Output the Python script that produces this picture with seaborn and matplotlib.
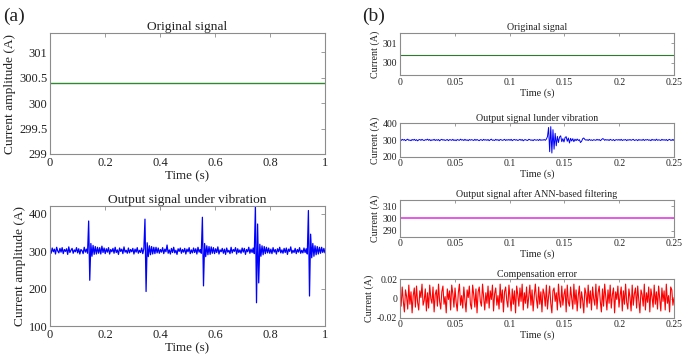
import numpy as np
import matplotlib
matplotlib.use("Agg")
import matplotlib.pyplot as plt
import seaborn as sns
from matplotlib.ticker import FuncFormatter

# ---- data ----
ORIG_LEVEL = 300.39          # original (clean) current, A
FILT_LEVEL = 300.0           # ANN-filtered output, A

# (a) output signal under vibration, deviation from 300 A, 0..1 s
vib_a_dev = [
    3, -6, 8, -2, 5, -8, 10, 0, -5, 7, -3, 9, -7, 4, -1, 6, -9, 11, -4, 2, 7, -6, 3, -2, 9,
    -5, 6, -8, 4, 1, -7, 10, -3, 5, -6, 80, -78, 20, -14, 15, -9, 12, -8, 10, -6, 9, -8, 13, -4, 8,
    -7, 6, -3, 9, -8, 4, -2, 7, -6, 10, -4, 3, -9, 8, -1, 5, -7, 11, -3, 2, -6, 8, -5, 4, -2,
    7, -8, 5, -3, 9, -6, 2, -4, 8, -7, 6, 85, -108, 22, -15, 14, -10, 12, -8, 10, -7, 10, -5, 8, -6,
    4, -3, 9, -7, 5, -2, 16, -6, 3, -8, 7, -4, 10, -5, 2, -9, 6, -1, 8, -6, 4, -3, 7, -8, 5,
    -2, 9, -7, 3, -5, 8, -4, 6, -8, 10, -3, 4, -6, 90, -93, 20, -15, 14, -10, 12, -9, 11, -6, 9, -7,
    6, -4, 11, -8, 3, -2, 7, -6, 5, -9, 8, -3, 2, -7, 10, -5, 4, -1, 9, -8, 6, -4, 3, -6, 8,
    -3, 7, -9, 4, -2, 10, -6, 5, -4, 8, -7, 120, -138, 72, -85, 18, -14, 14, -10, 12, -7, 10, -5, 8, -6,
    5, -7, 9, -3, 4, -8, 6, -2, 10, -5, 3, -6, 7, -4, 8, -9, 5, -1, 11, -6, 2, -4, 7, -7, 4,
    -3, 9, -6, 2, -5, 8, -4, 6, -8, 108, -120, 45, -18, 20, -14, 14, -10, 12, -8, 10, -6, 10, -4, 7, -5,
]

# (b) output signal under vibration, deviation from 300 A, 0..0.25 s
vib_b_dev = [
    2, -3, 4, -1, 3, -4, 1, 5, -2, 0, -4, 3, -1, 4, -3, 2, -5, 1, 3, -2, 4, -1, -3, 2, 0,
    5, -2, 3, -4, 1, -1, 4, -3, 2, -2, 3, -5, 1, 4, -1, 2, -3, 0, 3, -4, 2, 1, -2, 4, -3,
    1, -4, 3, 0, -2, 5, -1, 2, -3, 4, -2, 1, -4, 3, -1, 2, 0, -3, 4, -2, 3, -1, -4, 2, 1,
    -3, 4, -1, 2, -2, 3, -4, 1, 5, -2, 0, -3, 4, -1, 2, -4, 3, 1, -2, 0, 4, -3, 2, -1, 3,
    -2, 4, -4, 1, 3, -1, 2, -3, 0, 4, -2, 3, -5, 1, 2, -1, -3, 4, 2, -2, 1, -4, 3, 0, -1,
    2, -3, 4, -2, 1, -1, 3, -2, 5, 20, 75, -70, 80, -78, 62, -55, 40, -35, 22, -15, 18, 25, -10, 8, -12,
    15, 20, -8, 12, -18, 10, -6, 8, -10, 5, -4, 6, -3, 2, -15, -8, 8, 12, 3, -1, 2, -3, 4, -2, 1,
    -3, 2, 0, -2, 4, -1, 3, -4, 1, 8, 6, -2, 3, -1, 2, -3, 4, 0, -2, 3, -4, 1, 2, -1, 3,
    -2, 4, -3, 1, 0, 3, -4, 2, -1, 3, -2, 1, 4, -3, 0, 2, -4, 3, -1, 1, -2, 4, -3, 2, 0,
    3, -2, 1, -4, 4, -1, 2, -3, 5, -2, 1, 0, -3, 4, -1, 2, -2, 3, -4, 1, 4, -2, 0, 3, -1,
]

# (b) compensation error in mA, 0..0.25 s
err_mA = [
    5, -8, 12, -3, -14, 9, 2, -11, 14, -6, 7, -15, 3, 11, -9, 13, -4, -12, 8, 1, 15, -7, -2, 10, -13, 6, -10, 14, 0, -5,
    12, -14, 4, 9, -8, 15, -3, -11, 7, 13, -6, 2, -15, 10, -1, 8, -12, 14, 5, -9, 11, -4, -13, 6, 15, -7, 3, -10, 12, -2,
    -14, 9, 1, 13, -6, -11, 14, 4, -9, 10, -15, 7, 12, -3, -8, 15, 2, -12, 6, -5, 13, -10, 8, -1, 14, -13, 5, 11, -7, 3,
    -11, 15, -4, 9, -14, 7, 12, -2, -9, 14, 1, -13, 10, -6, 8, -15, 13, 4, -8, 11, -3, 15, -12, 6, -5, 12, -10, 2, 14, -7,
    9, -13, 3, 15, -1, -10, 12, -6, 7, -14, 10, 5, -8, 14, -11, 2, 13, -5, -15, 8, 11, -3, 6, -12, 15, -2, -9, 13, -7, 4,
    10, -14, 14, -4, -8, 12, 1, -11, 15, -6, 9, -13, 3, 13, -10, 7, -2, -15, 11, 5, -9, 14, -5, 8, -12, 12, 0, -7, 15, -11,
    6, 13, -3, -14, 10, -8, 15, 2, -12, 9, -5, 14, -10, 4, 11, -15, 7, -1, 13, -9, 3, 12, -13, 8, -6, 15, -4, -11, 10, 1,
    -13, 14, -7, 5, 11, -10, 13, -2, -15, 9, 4, -8, 15, -12, 6, -4, 12, -14, 10, 2, -9, 14, -6, 7, -11, 13, 0, -13, 11, -3,
    8, -12, 15, -5, 3, -14, 12, 9, -7, 1,
]

T_A = 1.0
T_B = 0.25

# ---- style ----
sns.set_theme(style="white")
plt.rcParams["font.family"] = ["Liberation Serif", "DejaVu Serif"]
plt.rcParams["axes.edgecolor"] = "#8c8c8c"
plt.rcParams["axes.linewidth"] = 0.8
plt.rcParams["xtick.color"] = "#8c8c8c"
plt.rcParams["ytick.color"] = "#8c8c8c"
plt.rcParams["xtick.labelcolor"] = "#222222"
plt.rcParams["ytick.labelcolor"] = "#222222"
plt.rcParams["text.color"] = "#222222"
plt.rcParams["axes.labelcolor"] = "#222222"

fmt = FuncFormatter(lambda v, p: f"{v:g}")


def style_ax(ax, fs, xt, tlen=3):
    ax.tick_params(direction="in", top=True, right=True, length=tlen,
                   width=0.6, labelsize=fs, pad=2)
    ax.set_xticks(xt)
    ax.xaxis.set_major_formatter(fmt)
    ax.yaxis.set_major_formatter(fmt)
    ax.set_xlim(xt[0], xt[-1])
    ax.set_xlabel("Time (s)", fontsize=fs + 0.4, labelpad=1)


fig = plt.figure(figsize=(6.84, 3.62), dpi=100)

FA = 9.0
FB = 7.0
xt_a = [0, 0.2, 0.4, 0.6, 0.8, 1]
xt_b = [0, 0.05, 0.1, 0.15, 0.2, 0.25]

# (a) top: original signal
ax1 = fig.add_axes([0.0731, 0.5746, 0.402, 0.334])
ta = np.linspace(0, T_A, len(vib_a_dev))
sns.lineplot(x=ta, y=np.full(len(ta), ORIG_LEVEL), ax=ax1, color="#2f8a2f", lw=1.0)
ax1.set_ylim(299, 301.38)
ax1.set_yticks([299, 299.5, 300, 300.5, 301])
style_ax(ax1, FA, xt_a)
ax1.set_ylabel("Current amplitude (A)", fontsize=9.6, labelpad=2)
ax1.set_title("Original signal", fontsize=9.6, pad=2)

# (a) bottom: output under vibration
ax2 = fig.add_axes([0.0731, 0.0994, 0.402, 0.3315])
sns.lineplot(x=ta, y=300 + np.array(vib_a_dev), ax=ax2, color="#0000ff", lw=0.9)
ax2.set_ylim(100, 420)
ax2.set_yticks([100, 200, 300, 400])
style_ax(ax2, FA, xt_a)
ax2.set_ylabel("Current amplitude (A)", fontsize=9.6, labelpad=2)
ax2.set_title("Output signal under vibration", fontsize=9.6, pad=2)

# (b) panels
bx, bw = 0.5848, 0.4006
tb = np.linspace(0, T_B, len(vib_b_dev))
te = np.linspace(0, T_B, len(err_mA))

b1 = fig.add_axes([bx, 0.7928, bw, 0.116])
sns.lineplot(x=tb, y=np.full(len(tb), ORIG_LEVEL), ax=b1, color="#2f7a2f", lw=0.8)
b1.set_ylim(299.36, 301.53)
b1.set_yticks([300, 301])
style_ax(b1, FB, xt_b, 2)
b1.set_ylabel("Current (A)", fontsize=7.2, labelpad=2)
b1.set_title("Original signal", fontsize=7.2, pad=2)

b2 = fig.add_axes([bx, 0.5671, bw, 0.0923])
sns.lineplot(x=tb, y=300 + np.array(vib_b_dev), ax=b2, color="#0000ff", lw=0.7)
b2.set_ylim(200, 400)
b2.set_yticks([200, 300, 400])
style_ax(b2, FB, xt_b, 2)
b2.set_ylabel("Current (A)", fontsize=7.2, labelpad=2)
b2.set_title("Output signal lunder vibration", fontsize=7.2, pad=2)

b3 = fig.add_axes([bx, 0.3461, bw, 0.1014])
sns.lineplot(x=tb, y=np.full(len(tb), FILT_LEVEL), ax=b3, color="#e34de3", lw=1.3)
b3.set_ylim(285, 315)
b3.set_yticks([290, 300, 310])
style_ax(b3, FB, xt_b, 2)
b3.set_ylabel("Current (A)", fontsize=7.2, labelpad=2)
b3.set_title("Output signal after ANN-based filtering", fontsize=7.2, pad=2)

b4 = fig.add_axes([bx, 0.1224, bw, 0.106])
sns.lineplot(x=te, y=np.array(err_mA) * 1e-3, ax=b4, color="#ff0000", lw=0.8)
b4.set_ylim(-0.02, 0.02)
b4.set_yticks([-0.02, 0, 0.02])
style_ax(b4, FB, xt_b, 2)
b4.set_ylabel("Current (A)", fontsize=7.2, labelpad=2)
b4.set_title("Compensation error", fontsize=7.2, pad=2)

fig.text(0.004, 0.955, "(a)", fontsize=14, va="center", ha="left")
fig.text(0.530, 0.955, "(b)", fontsize=14, va="center", ha="left")

fig.savefig("out.png", dpi=100)
